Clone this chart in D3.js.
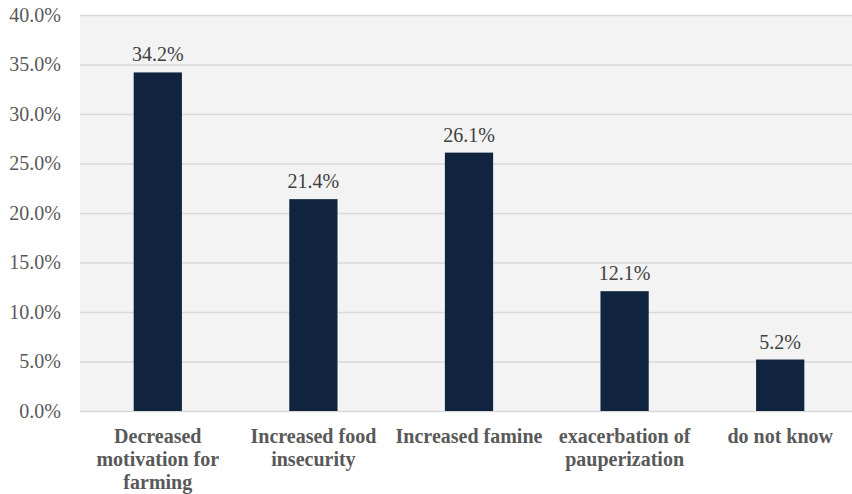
<html>
<head>
<meta charset="utf-8">
<script src="https://cdn.jsdelivr.net/npm/d3@7"></script>
</head>
<body style="margin:0;padding:0;background:#ffffff">
<script>
// Perceived consequences — share of respondents
const categories = [
  ["Decreased", "motivation for", "farming"],
  ["Increased food", "insecurity"],
  ["Increased famine"],
  ["exacerbation of", "pauperization"],
  ["do not know"]
];
const values = [34.2, 21.4, 26.1, 12.1, 5.2];
const yTicks = [0, 5, 10, 15, 20, 25, 30, 35, 40];

const W = 852, H = 494;
const plot = { left: 80, right: 858, top: 15, bottom: 411 };
const font = "\"Liberation Serif\"";

const svg = d3.select("body").append("svg")
  .attr("width", W).attr("height", H)
  .style("display", "block");

const keys = categories.map(c => c.join(" "));
const x = d3.scaleBand().domain(keys)
  .range([plot.left, plot.right]).paddingInner(0.69).paddingOuter(0.345);
const y = d3.scaleLinear().domain([0, 40]).range([plot.bottom, plot.top]);

// serif face for every label
function serif(sel) {
  return sel.attr("font-family", font).style("font-family", font, "important");
}

// plot background
svg.append("rect")
  .attr("x", plot.left).attr("y", plot.top)
  .attr("width", W - plot.left).attr("height", plot.bottom - plot.top)
  .attr("fill", "#f3f3f3");

// gridlines and tick labels
const yAxis = d3.axisLeft(y).tickValues(yTicks)
  .tickSize(-(W - plot.left)).tickPadding(19)
  .tickFormat(d => d.toFixed(1) + "%");
const gy = svg.append("g")
  .attr("transform", `translate(${plot.left},0)`)
  .call(yAxis);
serif(gy).attr("font-size", 20);
gy.select(".domain").remove();
gy.selectAll(".tick line").attr("stroke", "#d9d9d9").attr("stroke-width", 1.3);
serif(gy.selectAll(".tick text"))
  .attr("font-size", 20)
  .attr("fill", "#595959");

// bars
svg.append("g").selectAll("rect").data(values).join("rect")
  .attr("x", (d, i) => x(keys[i]))
  .attr("y", d => y(d))
  .attr("width", x.bandwidth())
  .attr("height", d => y(0) - y(d))
  .attr("fill", "#10233f");

// value labels
serif(svg.append("g").selectAll("text").data(values).join("text"))
  .attr("x", (d, i) => x(keys[i]) + x.bandwidth() / 2)
  .attr("y", d => y(d) - 11)
  .attr("text-anchor", "middle")
  .attr("font-size", 20)
  .attr("fill", "#404040")
  .text(d => d.toFixed(1) + "%");

// category labels
const cat = serif(svg.append("g").selectAll("text").data(categories).join("text"))
  .attr("text-anchor", "middle")
  .attr("font-size", 20)
  .attr("font-weight", "bold")
  .attr("fill", "#595959");
cat.each(function (lines, i) {
  const cx = x(keys[i]) + x.bandwidth() / 2;
  d3.select(this).selectAll("tspan").data(lines).join("tspan")
    .attr("x", cx)
    .attr("y", (l, j) => 443 + j * 23)
    .text(l => l);
});
</script>
</body>
</html>
